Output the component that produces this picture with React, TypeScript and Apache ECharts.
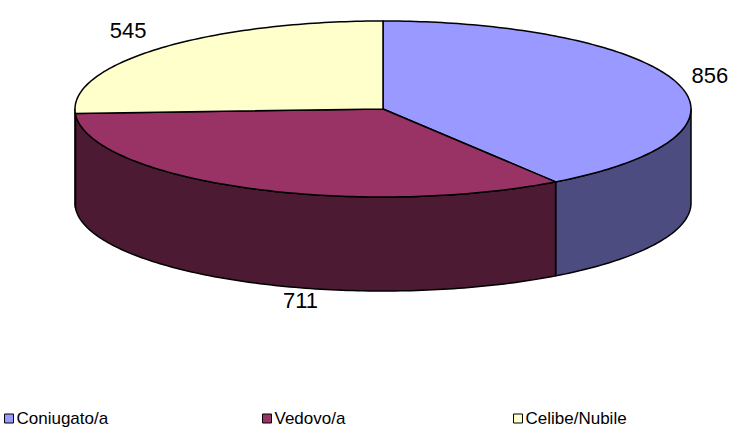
import React, { useEffect, useRef } from "react";
import * as echarts from "echarts";

const categories = ["Coniugato/a", "Vedovo/a", "Celibe/Nubile"];
const values = [856, 711, 545];
const topColors = ["#9999FF", "#993366", "#FFFFCC"];
const sideColors = ["#4C4C80", "#4C1A33", "#80806A"];

const CX = 383;
const CY = 109;
const RX = 308;
const RY = 88;
const DEPTH = 94;
const FONT = '"Liberation Sans", Arial, sans-serif';

const total = values.reduce((a, b) => a + b, 0);
const starts: number[] = [];
const ends: number[] = [];
{
  let acc = -90;
  values.forEach((v) => {
    starts.push(acc);
    acc += (v / total) * 360;
    ends.push(acc);
  });
}

const rad = (d: number) => (d * Math.PI) / 180;
const pt = (t: number, dy = 0): [number, number] => [
  CX + RX * Math.cos(rad(t)),
  CY + RY * Math.sin(rad(t)) + dy,
];

function arc(t0: number, t1: number, dy = 0) {
  const pts: [number, number][] = [];
  const n = Math.max(2, Math.ceil(Math.abs(t1 - t0)));
  for (let i = 0; i <= n; i++) pts.push(pt(t0 + ((t1 - t0) * i) / n, dy));
  return pts;
}

function makeRender(idx: number) {
  return (params: any, api: any) => {
    const t0 = starts[idx];
    const t1 = ends[idx];
    const children: any[] = [];
    const v0 = Math.max(t0, 0);
    const v1 = Math.min(t1, 180);
    if (v1 > v0) {
      const top = arc(v0, v1);
      const bottom = arc(v1, v0, DEPTH);
      children.push({
        type: "polygon",
        z2: 1,
        shape: { points: top.concat(bottom) },
        style: { fill: sideColors[idx], stroke: "#000", lineWidth: 1.5, lineJoin: "round" },
      });
    }
    children.push({
      type: "polygon",
      z2: 10,
      shape: { points: [[CX, CY] as [number, number]].concat(arc(t0, t1)) },
      style: { fill: topColors[idx], stroke: "#000", lineWidth: 1.5, lineJoin: "round" },
    });
    const m = (t0 + t1) / 2;
    let lx: number;
    let ly: number;
    if (Math.sin(rad(m)) > 0.5) {
      const xa = pt(v0)[0];
      const xb = pt(v1)[0];
      lx = (xa + xb) / 2 - 15;
      const c = (lx - CX) / RX;
      const s = Math.sqrt(Math.max(0, 1 - c * c));
      ly = CY + RY * s + DEPTH + 13;
    } else {
      lx = CX + (RX + 38) * Math.cos(rad(m)) - 4;
      ly = CY + (RY + 26) * Math.sin(rad(m));
    }
    children.push({
      type: "text",
      z2: 20,
      x: lx,
      y: ly,
      style: {
        text: String(values[idx]),
        fill: "#000",
        fontSize: 22,
        fontFamily: FONT,
        align: "center",
        verticalAlign: "middle",
      },
    });
    return { type: "group", children };
  };
}

export default function App() {
  const ref = useRef<HTMLDivElement>(null);
  useEffect(() => {
    document.body.style.margin = "0";
    if (!ref.current) return;
    const chart = echarts.init(ref.current, null, { renderer: "svg" });
    const legendLefts = [4, 262, 513];
    chart.setOption({
      animation: false,
      backgroundColor: "#FFFFFF",
      color: topColors,
      legend: categories.map((c, i) => ({
        data: [c],
        left: legendLefts[i],
        top: 410,
        orient: "horizontal",
        icon: "rect",
        itemWidth: 9,
        itemHeight: 9,
        itemGap: 4,
        padding: 0,
        selectedMode: false,
        itemStyle: { borderColor: "#000", borderWidth: 1 },
        textStyle: {
          color: "#000",
          fontSize: 17,
          fontFamily: FONT,
          padding: [0, 0, 0, -2],
        },
      })),
      series: categories.map((c, i) => ({
        type: "custom",
        name: c,
        coordinateSystem: "none",
        itemStyle: { color: topColors[i] },
        data: [values[i]],
        renderItem: makeRender(i),
      })),
    });
    return () => chart.dispose();
  }, []);
  return <div ref={ref} style={{ width: 732, height: 435 }} />;
}
